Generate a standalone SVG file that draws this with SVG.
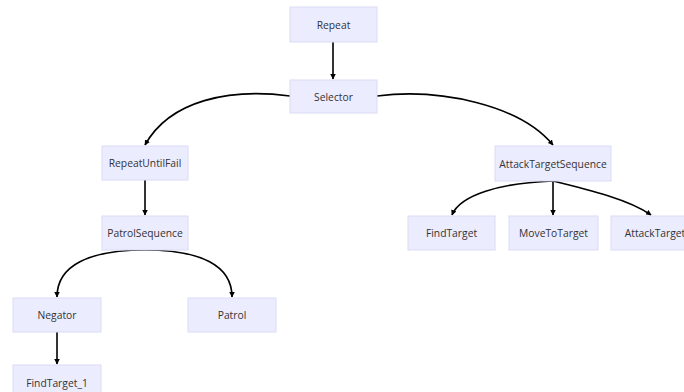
<svg xmlns="http://www.w3.org/2000/svg" width="684" height="392" viewBox="0 0 684 392">
<style>
.node rect{fill:#ECECFF;stroke:#dadaf5;stroke-width:1}
.node text{font-family:"Open Sans","Noto Sans",sans-serif;font-size:10.3px;fill:#333;text-anchor:middle;dominant-baseline:central}
.edges path{fill:none;stroke:#000;stroke-width:1.6}
</style>
<defs>
<marker id="arr" viewBox="0 0 10 10" refX="9" refY="5" markerWidth="5.5" markerHeight="5.5" orient="auto" markerUnits="userSpaceOnUse">
<path d="M0,0 L10,5 L0,10 z" fill="#000"/>
</marker>
</defs>
<rect width="684" height="392" fill="#fff"/>
<g class="edges">
<path d="M333,42 L333,79" marker-end="url(#arr)"/>
<path d="M290,96 C230,88 170,100 145,145" marker-end="url(#arr)"/>
<path d="M377,96 C440,88 520,105 553,145" marker-end="url(#arr)"/>
<path d="M145,180 L145,215" marker-end="url(#arr)"/>
<path d="M145,250 C90,250 57,265 57,297" marker-end="url(#arr)"/>
<path d="M145,250 C200,250 232,265 232,297" marker-end="url(#arr)"/>
<path d="M553,181 L553,215" marker-end="url(#arr)"/>
<path d="M553,181 C500,183 460,195 452,215" marker-end="url(#arr)"/>
<path d="M553,181 C590,190 630,200 651,215" marker-end="url(#arr)"/>
<path d="M57,332 L57,364" marker-end="url(#arr)"/>
</g>
<g id="Repeat" class="node"><rect x="290" y="7" width="87" height="35"/><text x="333.5" y="24.5">Repeat</text></g>
<g id="Selector" class="node"><rect x="290" y="80" width="87" height="33"/><text x="333.5" y="96.5">Selector</text></g>
<g id="RepeatUntilFail" class="node"><rect x="102" y="146" width="86" height="34"/><text x="145" y="163">RepeatUntilFail</text></g>
<g id="PatrolSequence" class="node"><rect x="102" y="216" width="86" height="34"/><text x="145" y="233">PatrolSequence</text></g>
<g id="Negator" class="node"><rect x="13" y="298" width="88" height="34"/><text x="57" y="315">Negator</text></g>
<g id="Patrol" class="node"><rect x="188" y="298" width="88" height="34"/><text x="232" y="315">Patrol</text></g>
<g id="FindTarget_1" class="node"><rect x="13" y="365" width="88" height="35"/><text x="57" y="382.5">FindTarget_1</text></g>
<g id="AttackTargetSequence" class="node"><rect x="495" y="146" width="116" height="35"/><text x="553" y="163.5">AttackTargetSequence</text></g>
<g id="FindTarget" class="node"><rect x="408" y="216" width="87" height="34"/><text x="451.5" y="233">FindTarget</text></g>
<g id="MoveToTarget" class="node"><rect x="509" y="216" width="89" height="34"/><text x="553.5" y="233">MoveToTarget</text></g>
<g id="AttackTarget" class="node"><rect x="611" y="216" width="88" height="34"/><text x="655" y="233">AttackTarget</text></g>
</svg>
